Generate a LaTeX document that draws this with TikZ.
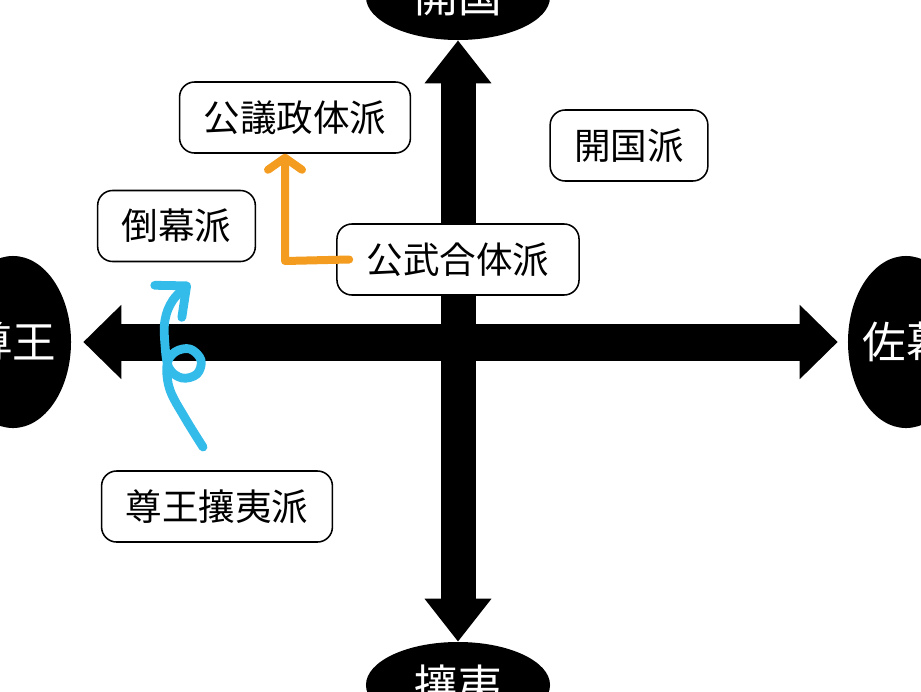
\documentclass[tikz,border=0pt]{standalone}
\usepackage{fontspec}
\setmainfont{Noto Sans CJK JP}
\usetikzlibrary{shapes, arrows.meta, positioning, calc}

\definecolor{handorange}{HTML}{F39C1F}
\definecolor{handblue}{HTML}{33BBEA}

\begin{document}
\begin{tikzpicture}[
    x=0.025cm, y=-0.025cm,
    pole/.style={ellipse, fill=black, inner xsep=-0.1cm, inner ysep=0pt, text=white, font=\fontsize{31}{36}\selectfont},
    polewide/.style={pole, minimum width=4.6cm, minimum height=2.15cm},
    poletall/.style={pole, minimum width=2.9cm, minimum height=4.3cm},
    faction/.style={rectangle, draw=black, fill=white, line width=1.1pt, rounded corners=0.375cm, minimum height=1.775cm, inner xsep=0.6cm, align=center, font=\fontsize{26}{30}\selectfont},
    vaxis/.style={line width=0.875cm, >={Triangle[length=1.075cm, width=1.6cm]}, <->},
    haxis/.style={line width=0.925cm, >={Triangle[length=0.95cm, width=1.8cm]}, <->},
    orangehand/.style={draw=handorange, line width=0.2cm, line cap=round, line join=round, -{Straight Barb[length=0.3cm, width=0.85cm, round]}},
    bluehand/.style={draw=handblue, line width=0.22cm, line cap=round, line join=round, -{Straight Barb[length=0.6cm, width=1.05cm, round]}}
]

% Frame
\useasboundingbox (0,0) rectangle (921,691);
\clip (0,0) rectangle (921,691);

% Poles
\node[polewide] (kaikoku) at (458,-3) {開国};
\node[polewide] (joui) at (458,685) {攘夷};
\node[poletall] (sonno) at (13,342) {尊王};
\node[poletall] (sabaku) at (906,342) {佐幕};

% Axes
\draw[vaxis] (kaikoku) -- (joui);
\draw[haxis, shorten <=0.3cm, shorten >=0.25cm] (sonno) -- (sabaku);

% Factions
\node[faction] (kogi) at (295,117.5) {公議政体派};
\node[faction] (kaikokuha) at (629,145.5) {開国派};
\node[faction] (tobaku) at (176.5,226) {倒幕派};
\node[faction, minimum width=6.05cm] (kobu) at (458,259.5) {公武合体派};
\node[faction] (sonnojoui) at (217,506.5) {尊王攘夷派};

% Hand drawn moves
\coordinate (orange corner) at (285,261);
\draw[orangehand] ([xshift=0.325cm]kobu.west) -- (orange corner) -- (kogi.south -| orange corner);

\coordinate (loop start) at (203,447);
\coordinate (loop tip) at (190,283);
\draw[bluehand] plot[smooth, tension=0.6] coordinates {(loop start) (185,418) (170,390) (167,365) (175,352) (190,349) (201,360) (197,374) (182,378) (169,368) (165,345) (165,320) (173,300) (loop tip)};

\end{tikzpicture}
\end{document}
